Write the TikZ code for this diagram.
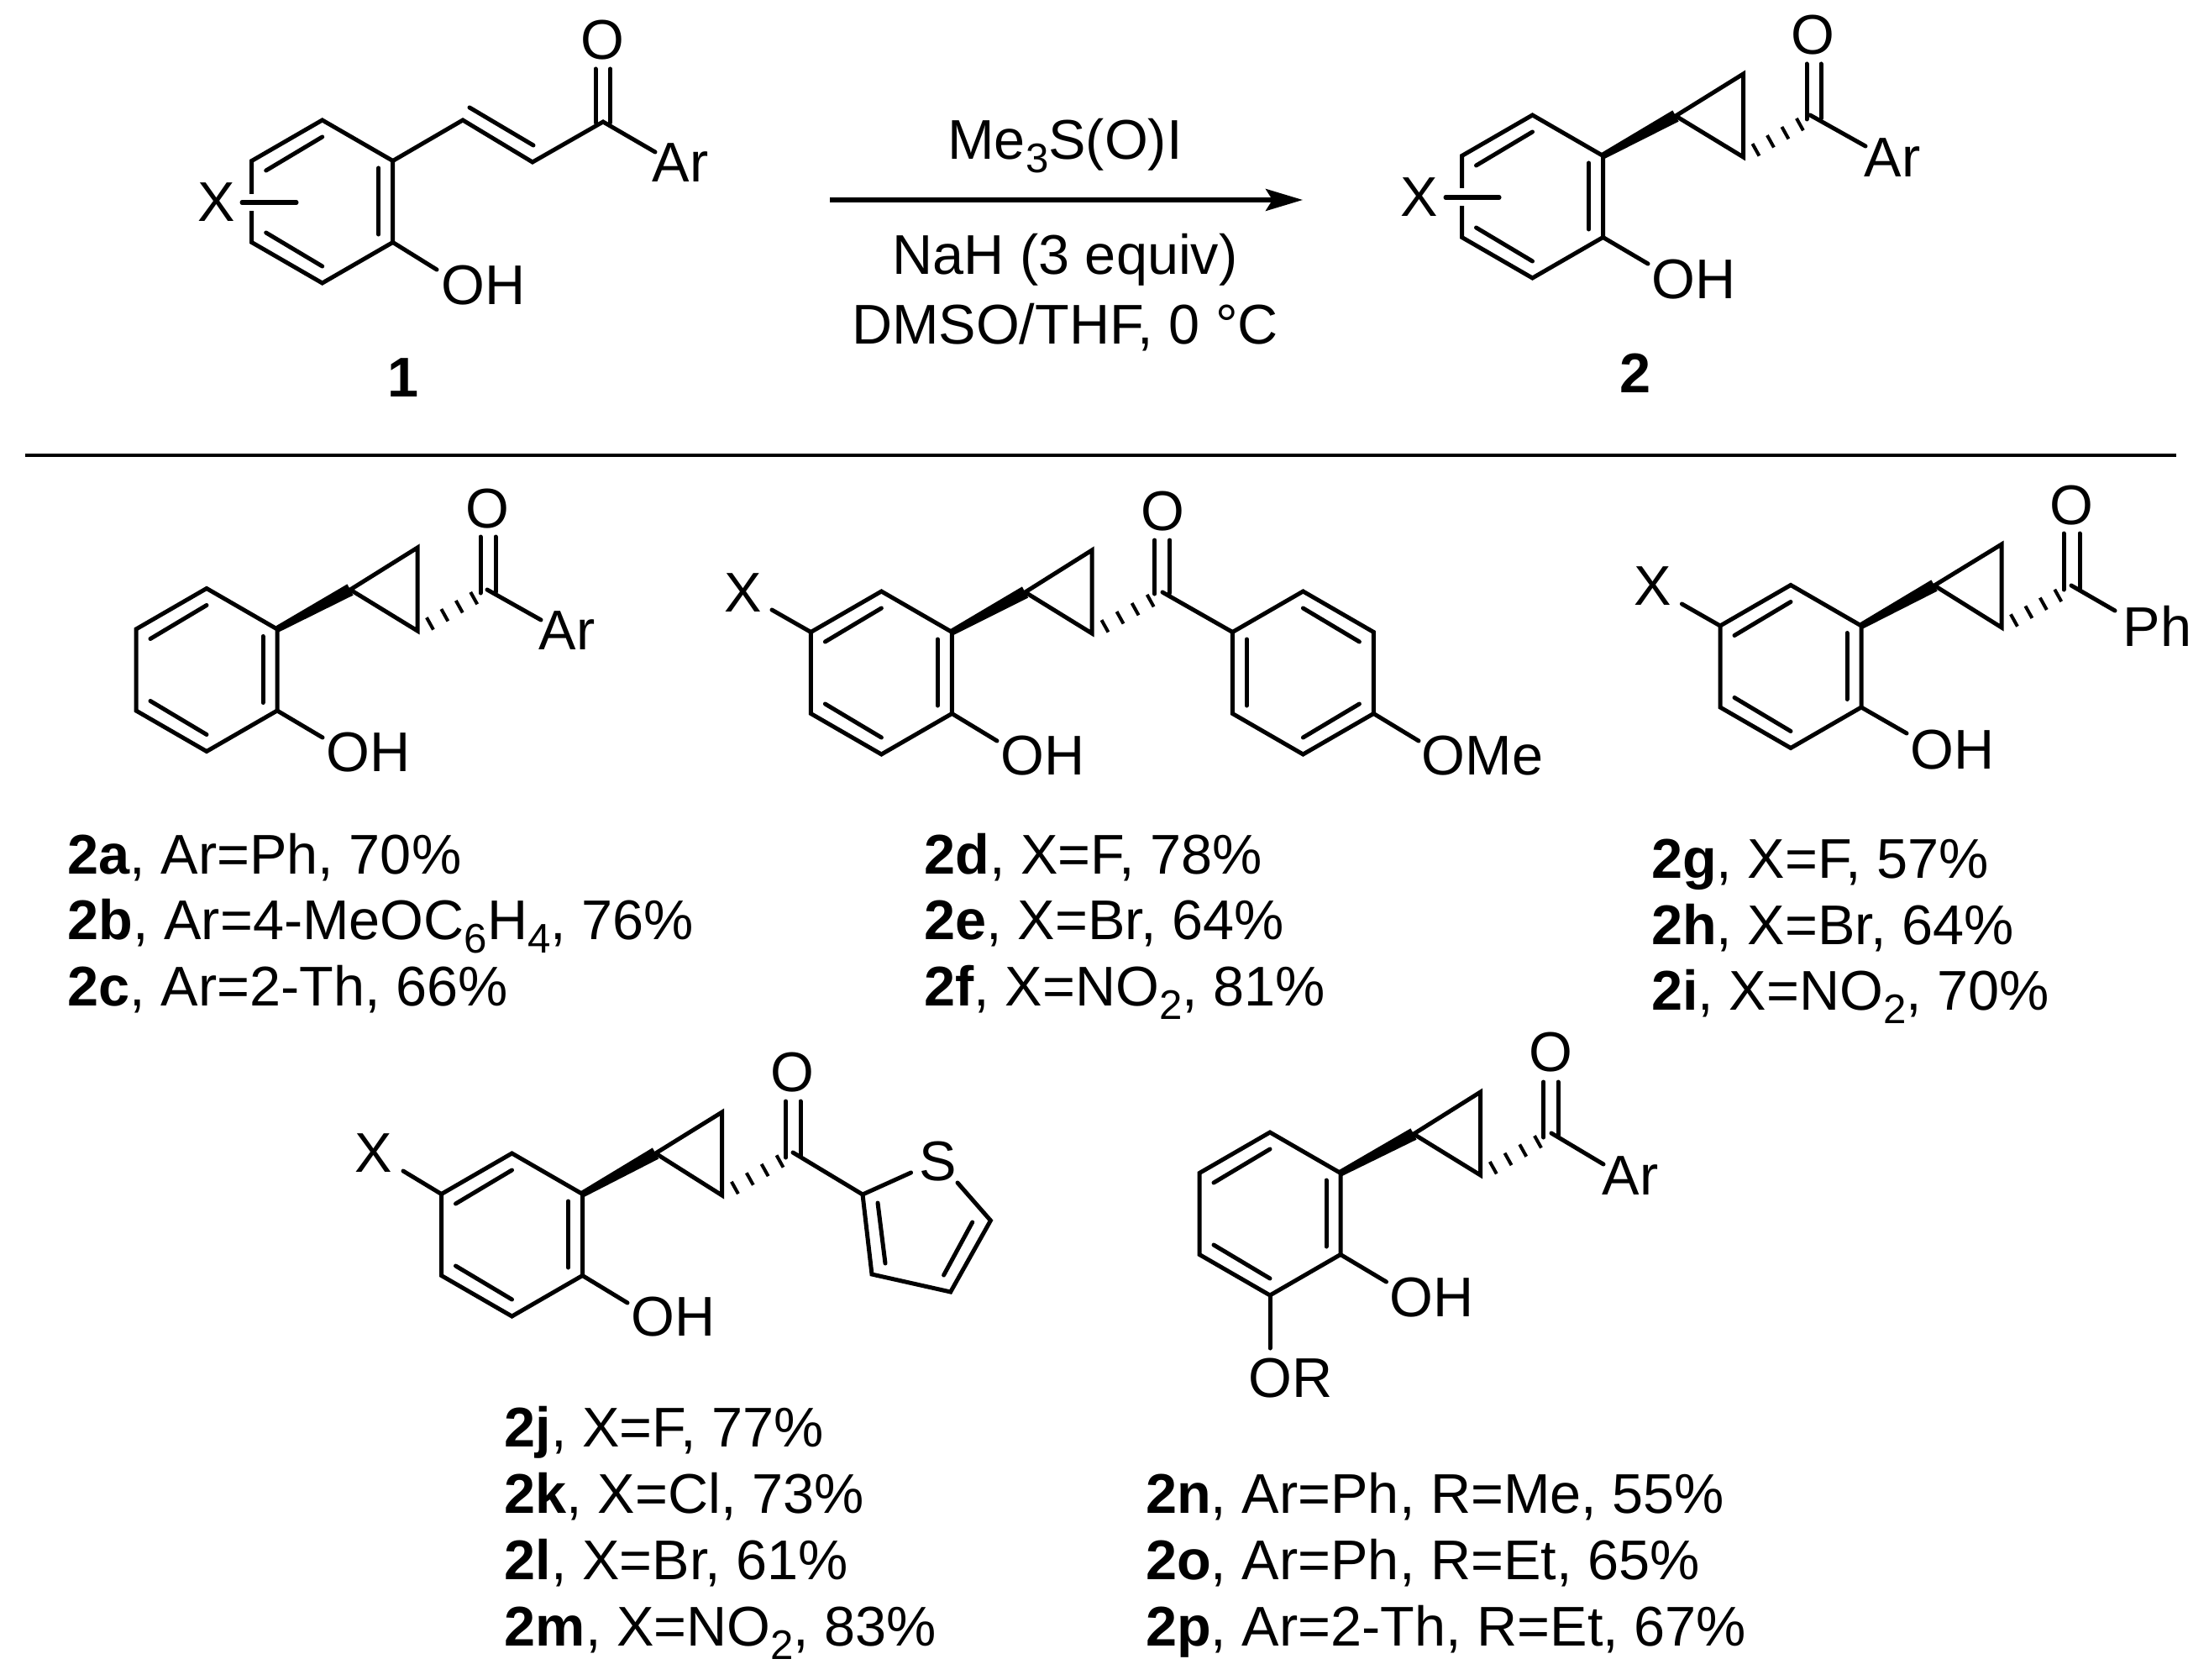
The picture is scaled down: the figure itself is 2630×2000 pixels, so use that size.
\documentclass[tikz,border=0pt]{standalone}
\usepackage{fontspec}
\setmainfont{Liberation Sans}
\usetikzlibrary{arrows.meta, calc}
\newcommand{\chemsub}[1]{\raisebox{-0.24em}{\fontsize{14}{14}\selectfont #1}}
\tikzset{
    bond/.style={line width=0.05cm, line cap=round, line join=miter, miter limit=10},
    hashbond/.style={line width=0.04cm},
    atom/.style={inner sep=0pt, font=\fontsize{18.95}{22}\selectfont},
    atomw/.style={atom, anchor=base west},
    entry/.style={atom, anchor=base west},
    reagent/.style={atom, anchor=base}
}
% benzene ring with three inner double bonds
\newcommand{\arylring}[3][]{
    \begin{scope}[shift={(#2,#3)},#1]
        \draw[bond] (0,-97) -- (84,-48.5) -- (84,48.5) -- (0,97) -- (-84,48.5) -- (-84,-48.5) -- cycle;
        \draw[bond] (-67,-37) -- (0,-77);
        \draw[bond] (67,-40) -- (67,39);
        \draw[bond] (-67,37) -- (0,77);
    \end{scope}
}
% wedge, cyclopropane and hashed bond: ring atom, cp atom, top, bottom, carbonyl atom
\newcommand{\cpunit}[5]{
    \coordinate (cpa) at #1;
    \coordinate (cpb) at #2;
    \coordinate (cpc) at #3;
    \coordinate (cpd) at #4;
    \coordinate (cpe) at #5;
    \fill ($(cpa)!0.04cm!90:(cpb)$) -- ($(cpb)!0.075cm!-90:(cpa)$) -- ($(cpb)!0.075cm!90:(cpa)$) -- ($(cpa)!0.04cm!-90:(cpb)$) -- cycle;
    \draw[bond] (cpb) -- (cpc) -- (cpd) -- cycle;
    \foreach \t in {0.18,0.39,0.60,0.81}
        \draw[hashbond] ($(cpd)!\t!(cpe)+(-4,-7.2)$) -- ($(cpd)!\t!(cpe)+(4,7.2)$);
}
\begin{document}
\begin{tikzpicture}[x=0.01cm, y=-0.01cm]
    \useasboundingbox (0,0) rectangle (2630,2000);

    % Substrate 1
    \arylring{383.7}{240}
    \draw[white, line width=0.07cm] (299.5,231) -- (299.5,251);
    \draw[bond] (288,241) -- (353,241);
    \node[atom] (x1) at (258,241) {X};
    \draw[bond] (467.7,191.5) -- (551,143) -- (634,193) -- (718,145) -- (780,181);
    \draw[bond] (559,128) -- (635,173);
    \draw[bond] (709,82) -- (709,146);
    \draw[bond] (726.5,82) -- (726.5,146);
    \node[atom] (o1) at (717,48) {O};
    \node[atomw] (ar1) at (776,217) {Ar};
    \draw[bond] (467.7,288.5) -- (520,321);
    \node[atomw] (oh1) at (525,362) {OH};
    \node[atom, font=\fontsize{18.95}{22}\selectfont\bfseries] (n1) at (480,450) {1};

    % Reaction conditions
    \coordinate (arrowstart) at (988,238);
    \coordinate (arrowend) at (1551,238);
    \draw[line width=0.05cm, -{Stealth[length=0.44cm, width=0.26cm, inset=0.08cm]}] (arrowstart) -- (arrowend);
    \node[reagent] (r1) at (1268,190) {Me\chemsub{3}S(O)I};
    \node[reagent] (r2) at (1268,327) {NaH (3 equiv)};
    \node[reagent] (r3) at (1268,409) {DMSO/THF, 0 °C};

    % Product 2
    \arylring{1824.5}{234}
    \draw[white, line width=0.07cm] (1740,224) -- (1740,245);
    \draw[bond] (1721,235) -- (1785,235);
    \node[atom] (x2) at (1690,235) {X};
    \cpunit{(1908.5,185.5)}{(1995,138)}{(2075.5,88)}{(2075.5,187)}{(2158.7,139)}
    \draw[bond] (2151,76) -- (2151,142);
    \draw[bond] (2168,76) -- (2168,141);
    \draw[bond] (2155,137) -- (2221,174);
    \node[atom] (o2) at (2158.7,42) {O};
    \node[atomw] (ar2) at (2219,211) {Ar};
    \draw[bond] (1908.5,282.5) -- (1962,314);
    \node[atomw] (oh2) at (1966,355) {OH};
    \node[atom, font=\fontsize{18.95}{22}\selectfont\bfseries] (n2) at (1947,444) {2};

    % Divider
    \coordinate (divl) at (30,542);
    \coordinate (divr) at (2591,542);
    \draw[line width=0.045cm] (divl) -- (divr);

    % 2a-c
    \arylring{246}{797.5}
    \cpunit{(330,749)}{(417,702)}{(497,652)}{(497,751)}{(580,703)}
    \draw[bond] (572,639) -- (572,706);
    \draw[bond] (590,639) -- (590,705);
    \draw[bond] (580,702) -- (644,738);
    \node[atom] (oa) at (580,606) {O};
    \node[atomw] (ara) at (641,773) {Ar};
    \draw[bond] (330,846) -- (384,878);
    \node[atomw] (oha) at (388,918) {OH};
    \node[entry] (ta) at (80,1040) {\textbf{2a}, Ar=Ph, 70\%};
    \node[entry] (tb) at (80,1118) {\textbf{2b}, Ar=4-MeOC\chemsub{6}H\chemsub{4}, 76\%};
    \node[entry] (tc) at (80,1197) {\textbf{2c}, Ar=2-Th, 66\%};

    % 2d-f
    \arylring{1049.4}{801}
    \draw[bond] (919,726) -- (965.4,752.5);
    \node[atom] (xd) at (885,706) {X};
    \cpunit{(1133.4,752.5)}{(1220.5,705)}{(1300,655)}{(1300,754)}{(1386,706)}
    \draw[bond] (1374.6,643) -- (1374.6,707);
    \draw[bond] (1392.7,643) -- (1392.7,706);
    \draw[bond] (1384,705) -- (1467.4,752.5);
    \node[atom] (od) at (1384,609) {O};
    \arylring[xscale=-1]{1551.4}{801}
    \draw[bond] (1635.4,849.5) -- (1689,882);
    \node[atomw] (omed) at (1692,922) {OMe};
    \draw[bond] (1133.4,849.5) -- (1187,882);
    \node[atomw] (ohd) at (1191,922) {OH};
    \node[entry] (td) at (1100,1040) {\textbf{2d}, X=F, 78\%};
    \node[entry] (te) at (1100,1118) {\textbf{2e}, X=Br, 64\%};
    \node[entry] (tf) at (1100,1197) {\textbf{2f}, X=NO\chemsub{2}, 81\%};

    % 2g-i
    \arylring{2132}{793.5}
    \draw[bond] (2002.4,719) -- (2048,745);
    \node[atom] (xg) at (1967.5,698) {X};
    \cpunit{(2216,745)}{(2303,697)}{(2383,648)}{(2383,747)}{(2466,700)}
    \draw[bond] (2457,635) -- (2457,702);
    \draw[bond] (2476,635) -- (2476,701);
    \draw[bond] (2466,697) -- (2518,727);
    \node[atom] (og) at (2466,602) {O};
    \node[atomw] (phg) at (2527,769) {Ph};
    \draw[bond] (2216,842) -- (2270,873);
    \node[atomw] (ohg) at (2274,915) {OH};
    \node[entry] (tg) at (1965.5,1045) {\textbf{2g}, X=F, 57\%};
    \node[entry] (th) at (1965.5,1124) {\textbf{2h}, X=Br, 64\%};
    \node[entry] (ti) at (1965.5,1202) {\textbf{2i}, X=NO\chemsub{2}, 70\%};

    % 2j-m
    \arylring{609.5}{1470}
    \draw[bond] (480,1394) -- (525.5,1421.5);
    \node[atom] (xj) at (444.4,1373) {X};
    \cpunit{(693.5,1421.5)}{(780.5,1373)}{(859.6,1324)}{(859.6,1423)}{(944.7,1373)}
    \draw[bond] (935.5,1311) -- (935.5,1378);
    \draw[bond] (953,1311) -- (953,1376);
    \draw[bond] (1140,1408) -- (1179.4,1453) -- (1131.7,1538) -- (1038,1517) -- (1027,1422) -- (1084.6,1396);
    \draw[bond] (944,1372) -- (1027,1422);
    \draw[bond] (1045,1432) -- (1054,1504);
    \draw[bond] (1157.7,1455) -- (1123.6,1518);
    \node[atom] (oj) at (943.6,1277) {O};
    \node[atom] (sj) at (1117,1383) {S};
    \draw[bond] (693.5,1518.5) -- (747,1551);
    \node[atomw] (ohj) at (751,1590) {OH};
    \node[entry] (tj) at (600,1722) {\textbf{2j}, X=F, 77\%};
    \node[entry] (tk) at (600,1801) {\textbf{2k}, X=Cl, 73\%};
    \node[entry] (tl) at (600,1880) {\textbf{2l}, X=Br, 61\%};
    \node[entry] (tm) at (600,1959) {\textbf{2m}, X=NO\chemsub{2}, 83\%};

    % 2n-p
    \arylring{1512}{1445}
    \cpunit{(1596,1396.5)}{(1683,1350)}{(1762.6,1300)}{(1762.6,1399)}{(1847,1350)}
    \draw[bond] (1837.7,1288) -- (1837.7,1354);
    \draw[bond] (1855,1288) -- (1855,1352);
    \draw[bond] (1847,1349) -- (1909,1386);
    \node[atom] (on) at (1846,1253) {O};
    \node[atomw] (arn) at (1907,1422) {Ar};
    \draw[bond] (1596,1493.5) -- (1650.5,1526);
    \node[atomw] (ohn) at (1654,1567) {OH};
    \draw[bond] (1512,1542) -- (1512,1605);
    \node[atomw] (orn) at (1486,1663) {OR};
    \node[entry] (tn) at (1363.5,1801) {\textbf{2n}, Ar=Ph, R=Me, 55\%};
    \node[entry] (to) at (1363.5,1880) {\textbf{2o}, Ar=Ph, R=Et, 65\%};
    \node[entry] (tp) at (1363.5,1959) {\textbf{2p}, Ar=2-Th, R=Et, 67\%};
\end{tikzpicture}
\end{document}
